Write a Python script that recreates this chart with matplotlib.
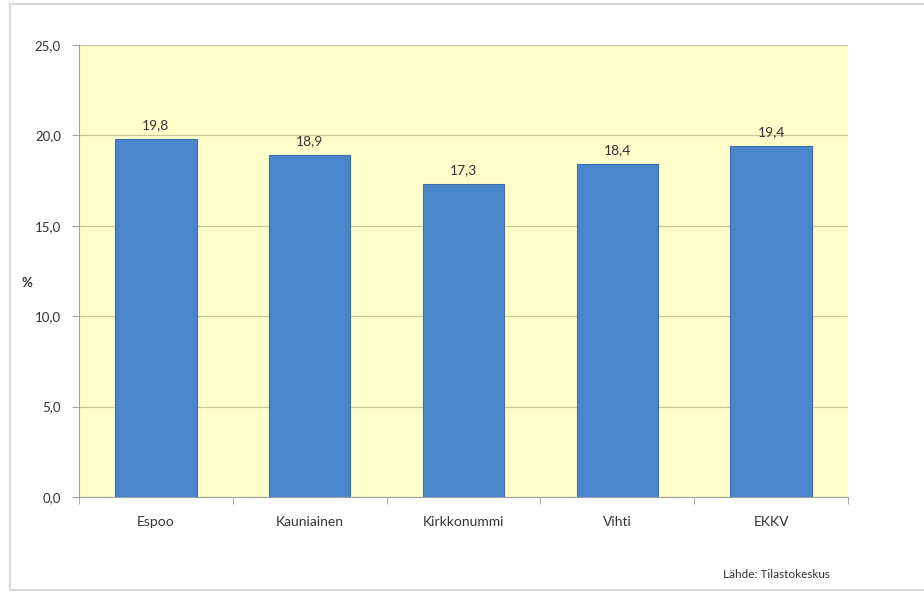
import matplotlib.pyplot as plt
from matplotlib.patches import Rectangle

# data
kunnat = ['Espoo', 'Kauniainen', 'Kirkkonummi', 'Vihti', 'EKKV']
osuus = [19.8, 18.9, 17.3, 18.4, 19.4]
y_ticks = [0, 5, 10, 15, 20, 25]

plt.rcParams['font.family'] = ['Lato', 'DejaVu Sans']

W, H = 924, 595
fig = plt.figure(figsize=(W / 100, H / 100), dpi=100)
fig.patch.set_facecolor('white')

# outer chart frame
fig.patches.append(Rectangle((10 / W, 5 / H), 1.0, 1 - 9 / H, transform=fig.transFigure,
                             fill=False, edgecolor='#d9d9d9', linewidth=1.5))

ax = fig.add_axes([79 / W, 1 - 497 / H, 769 / W, 452 / H])
ax.set_facecolor('#ffffcc')

x = range(len(kunnat))
bars = ax.bar(x, osuus, width=0.53, color='#4a86cc', edgecolor='#3d6fa8', linewidth=0.8, zorder=3)

for xi, v in zip(x, osuus):
    ax.text(xi, v + 0.45, f'{v:.1f}'.replace('.', ','), ha='center', va='bottom',
            fontsize=10, color='#333333', zorder=4)

ax.set_xlim(-0.5, len(kunnat) - 0.5)
ax.set_ylim(0, 25)
ax.set_yticks(y_ticks)
ax.set_yticklabels([f'{t:.1f}'.replace('.', ',') for t in y_ticks], fontsize=9.5, color='#333333')
ax.yaxis.grid(True, color='#c8c896', linewidth=0.9, zorder=1)

ax.set_xticks(list(x))
ax.set_xticklabels(kunnat, fontsize=10, color='#333333')
ax.tick_params(axis='x', length=0, pad=14)
ax.set_xticks([i + 0.5 for i in range(-1, len(kunnat))], minor=True)
ax.tick_params(axis='x', which='minor', length=5, color='#a0a0a0', direction='out')
ax.tick_params(axis='y', length=5, color='#a0a0a0', pad=8)

for s in ['top', 'right']:
    ax.spines[s].set_visible(False)
ax.spines['left'].set_color('#a0a0a0')
ax.spines['bottom'].set_color('#a0a0a0')

fig.text(22 / W, 1 - 283 / H, '%', fontsize=9.5, fontweight='bold', color='#333333',
         ha='left', va='center')
fig.text(776 / W, 1 - 574 / H, 'Lähde: Tilastokeskus', fontsize=8.5, color='#333333',
         ha='center', va='center')

fig.savefig('out.png', dpi=100)
